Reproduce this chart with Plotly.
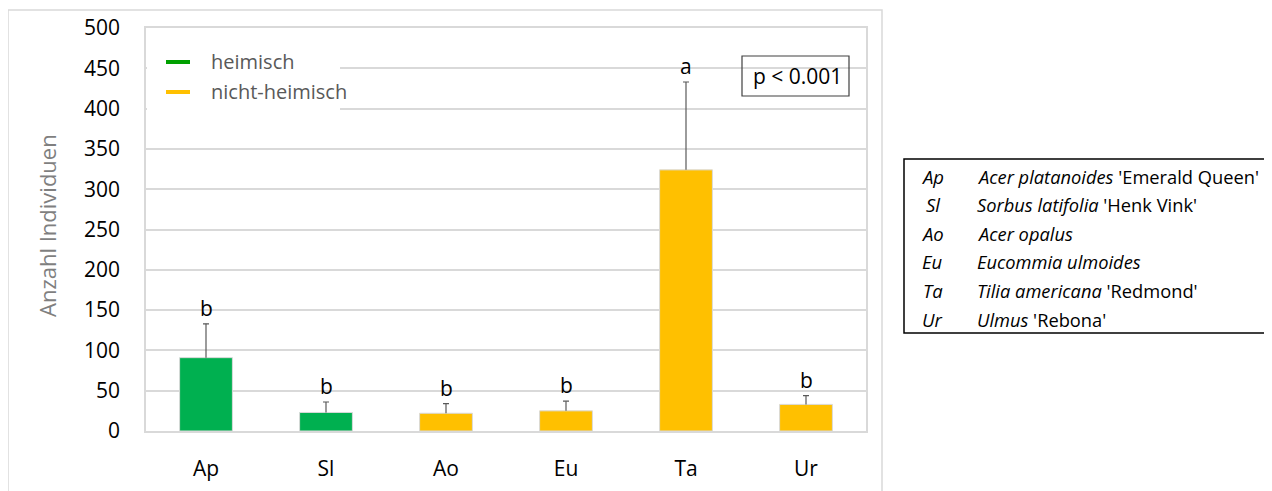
import plotly.graph_objects as go

categories = ["Ap", "Sl", "Ao", "Eu", "Ta", "Ur"]
means = [91, 23, 22, 25, 324, 33]
err_upper = [42, 13, 12, 12, 109, 11]
status = ["heimisch", "heimisch", "nicht-heimisch", "nicht-heimisch", "nicht-heimisch", "nicht-heimisch"]
letters = ["b", "b", "b", "b", "a", "b"]
legend_names = ["heimisch", "nicht-heimisch"]
y_ticks = [0, 50, 100, 150, 200, 250, 300, 350, 400, 450, 500]
p_text = "p < 0.001"
table_abbr = ["Ap", "Sl", "Ao", "Eu", "Ta", "Ur"]
table_species = ["Acer platanoides", "Sorbus latifolia", "Acer opalus", "Eucommia ulmoides", "Tilia americana", "Ulmus"]
table_cultivar = ["'Emerald Queen'", "'Henk Vink'", "", "", "'Redmond'", "'Rebona'"]

GREEN = "#00B050"
YELLOW = "#FFC000"
colors = {"heimisch": GREEN, "nicht-heimisch": YELLOW}
FONT = "Open Sans"

# page has an 8px body margin; work in window pixel coordinates and subtract it
O = 8
W, H = 1272 - O, 491 - O
L, R, T, B = 146, 866, 28, 431  # plot area in window pixels

def px(x):
    return (x - L) / (R - L)

def py(y):
    return (B - y) / (B - T)

tops = [m + e for m, e in zip(means, err_upper)]

fig = go.Figure()
fig.add_trace(go.Bar(
    x=categories, y=means,
    marker=dict(color=[colors[s] for s in status], line=dict(color="#d9d9d9", width=1)),
    width=0.44,
    showlegend=False, hoverinfo="x+y",
))
# error bar stems (no caps)
fig.add_trace(go.Scatter(
    x=categories, y=means, mode="markers", marker=dict(size=0.1, color="rgba(0,0,0,0)"),
    error_y=dict(type="data", symmetric=False, array=err_upper, arrayminus=[0] * len(err_upper),
                 color="#595959", thickness=1.2, width=0),
    showlegend=False, hoverinfo="skip",
))
# top caps only
fig.add_trace(go.Scatter(
    x=categories, y=tops, mode="markers", marker=dict(size=0.1, color="rgba(0,0,0,0)"),
    error_y=dict(type="data", symmetric=False, array=[0] * len(tops), arrayminus=[0] * len(tops),
                 color="#595959", thickness=1.2, width=3),
    showlegend=False, hoverinfo="skip",
))

annotations = []
for c, t, l in zip(categories, tops, letters):
    annotations.append(dict(x=c, y=t, text=l, showarrow=False, yanchor="bottom",
                            yshift=0, font=dict(family=FONT, size=21, color="#000000")))

shapes = []
# outer chart frame
shapes.append(dict(type="rect", xref="paper", yref="paper", x0=px(8), x1=px(882), y0=py(520), y1=py(10),
                   line=dict(color="#d9d9d9", width=1.5), layer="below"))
# legend background
shapes.append(dict(type="rect", xref="paper", yref="paper", x0=px(147), x1=px(340), y0=py(110), y1=py(45),
                   line=dict(width=0), fillcolor="white", layer="above"))
legend_y = [62, 92]
for name, yy in zip(legend_names, legend_y):
    shapes.append(dict(type="line", xref="paper", yref="paper", x0=px(166), x1=px(190), y0=py(yy), y1=py(yy),
                       line=dict(color="#00A000" if name == "heimisch" else YELLOW, width=4)))
    annotations.append(dict(xref="paper", yref="paper", x=px(209), y=py(yy - 1), text=name, showarrow=False,
                            xanchor="left", yanchor="middle", font=dict(family=FONT, size=20, color="#595959")))

# p-value box
annotations.append(dict(xref="paper", yref="paper", x=px(797), y=py(76), text=p_text, showarrow=False,
                        xanchor="center", yanchor="middle", font=dict(family=FONT, size=21, color="#000000")))
shapes.append(dict(type="rect", xref="paper", yref="paper", x0=px(742), x1=px(849), y0=py(96), y1=py(56),
                   line=dict(color="#404040", width=1.2)))

# y-axis title
annotations.append(dict(xref="paper", yref="paper", x=px(47), y=py(225), text="Anzahl Individuen",
                        textangle=-90, showarrow=False, xanchor="center", yanchor="middle",
                        font=dict(family=FONT, size=22, color="#7f7f7f")))

# species table
shapes.append(dict(type="rect", xref="paper", yref="paper", x0=px(904), x1=px(1300), y0=py(333), y1=py(159),
                   line=dict(color="#000000", width=1.5)))
for i, (a, s, cv) in enumerate(zip(table_abbr, table_species, table_cultivar)):
    yy = 176 + i * 28.6
    annotations.append(dict(xref="paper", yref="paper", x=px(933), y=py(yy), text=f"<i>{a}</i>", showarrow=False,
                            xanchor="center", yanchor="middle", font=dict(family=FONT, size=18.5, color="#000000")))
    txt = f"<i>{s}</i>" + (f" {cv}" if cv else "")
    annotations.append(dict(xref="paper", yref="paper", x=px(975), y=py(yy), text=txt, showarrow=False,
                            xanchor="left", yanchor="middle", font=dict(family=FONT, size=18.3, color="#000000")))

fig.update_layout(
    width=W, height=H, autosize=False,
    margin=dict(l=L - O, r=(W + O) - R, t=T - O, b=(H + O) - B, pad=0, autoexpand=False),
    paper_bgcolor="white", plot_bgcolor="white",
    font=dict(family=FONT, color="#000000"),
    annotations=annotations, shapes=shapes,
    bargap=0.56,
)
fig.update_xaxes(
    showline=True, mirror=True, linecolor="#d9d9d9", linewidth=1.5, automargin=False,
    tickfont=dict(family=FONT, size=21, color="#000000"), ticks="", ticklabelstandoff=18,
    showgrid=False,
)
fig.update_yaxes(
    range=[0, 500], tickvals=y_ticks, showgrid=True, gridcolor="#d9d9d9", gridwidth=1.5,
    showline=True, mirror=True, linecolor="#d9d9d9", linewidth=1.5, automargin=False,
    tickfont=dict(family=FONT, size=21, color="#000000"), ticks="", ticklabelstandoff=20,
    zeroline=False,
)

fig.write_html("out.html")
